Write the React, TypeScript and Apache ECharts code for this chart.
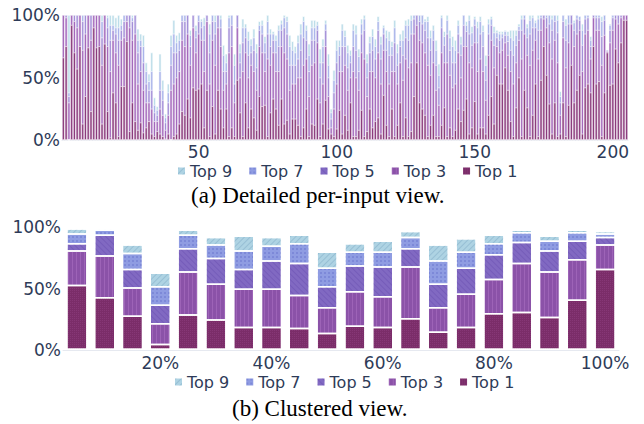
import React, { useEffect, useRef } from 'react';
import * as echarts from 'echarts';

const seriesNames = ['Top 9', 'Top 7', 'Top 5', 'Top 3', 'Top 1'];

// Detailed per-input view (205 inputs), values in percent
const detailTop9 = [
  100,100,100,100,100,100,100,100,100,100,
  100,100,100,100,100,100,100,100,100,98,
  100,97,100,100,100,100,100,89,85,84,
  62,53,70,34,27,69,48,21,45,84,
  96,84,86,100,100,100,88,100,92,100,
  97,98,100,93,100,100,100,100,76,69,
  100,100,69,100,77,97,93,87,81,89,
  77,95,96,83,100,89,87,84,92,96,
  100,99,84,79,75,84,93,99,92,77,
  96,96,95,73,81,96,69,25,56,80,
  80,93,88,76,72,93,92,73,97,100,
  69,83,89,81,99,83,92,88,87,79,
  96,77,85,88,96,97,100,100,100,100,
  100,97,99,88,92,80,61,100,87,100,
  88,83,80,96,83,100,95,100,91,99,
  95,99,92,68,97,99,91,88,87,87,
  88,87,88,88,88,93,100,100,93,100,
  100,96,100,100,100,100,100,100,100,100,
  39,100,97,100,100,96,100,99,93,100,
  100,83,100,100,100,99,100,72,93,100,
  100,100,100,100,100,
];
const detailTop7 = [
  100,100,38,100,100,100,100,100,100,100,
  100,100,100,100,95,100,98,92,92,90,
  90,92,100,100,100,98,100,80,80,75,
  55,47,55,28,24,55,40,18,38,75,
  85,78,80,100,100,100,84,100,88,100,
  95,92,100,85,100,95,100,97,68,62,
  98,100,60,100,70,90,90,80,76,82,
  70,92,92,78,95,85,85,80,88,93,
  98,95,75,72,70,78,85,95,88,68,
  90,90,92,62,75,93,60,22,48,72,
  75,88,83,70,68,88,85,67,93,97,
  62,78,83,75,95,77,90,82,80,75,
  90,70,80,80,92,92,96,100,100,100,
  100,95,95,82,88,72,52,98,83,96,
  82,75,72,92,77,100,92,96,86,97,
  90,95,87,60,93,97,86,86,85,85,
  87,84,82,80,84,91,97,100,90,96,
  98,94,97,100,100,100,100,97,100,96,
  35,100,92,100,100,94,100,99,88,100,
  100,80,100,100,100,95,100,72,92,100,
  100,100,100,100,100,
];
const detailTop5 = [
  100,100,35,100,100,100,100,95,100,100,
  100,100,100,100,82,100,90,80,88,85,
  80,88,95,100,100,95,100,70,75,62,
  45,40,40,22,20,40,32,14,30,60,
  70,70,72,95,95,100,75,100,82,95,
  90,80,100,70,95,85,100,90,55,55,
  90,92,45,100,62,78,82,68,70,72,
  58,88,85,70,85,75,80,70,75,88,
  90,85,60,60,60,65,72,82,80,55,
  80,80,88,50,62,88,50,17,38,62,
  68,75,75,58,62,75,72,55,85,88,
  50,70,72,65,88,65,85,72,68,68,
  78,60,75,68,82,80,85,97,100,95,
  93,88,82,72,80,60,42,90,76,85,
  72,62,62,85,68,92,87,85,76,92,
  78,85,75,48,85,92,76,82,80,82,
  84,79,72,68,76,88,88,97,82,85,
  90,90,88,98,100,98,93,88,95,86,
  30,95,80,93,100,88,97,96,76,97,
  98,75,100,98,98,83,96,72,88,98,
  100,100,100,100,100,
];
const detailTop3 = [
  100,98,30,100,95,90,100,72,85,100,
  80,100,100,100,60,100,75,55,80,70,
  60,80,82,95,90,80,85,45,55,40,
  30,30,25,15,15,25,20,8,20,40,
  45,50,55,80,75,85,60,90,70,85,
  80,55,95,45,80,60,90,75,40,45,
  70,75,30,90,50,55,70,50,60,55,
  40,75,70,55,65,60,70,55,55,75,
  70,65,40,45,45,50,50,60,65,35,
  60,62,78,30,45,75,35,10,25,45,
  55,55,60,40,50,55,50,40,70,65,
  35,55,55,50,70,45,72,55,45,55,
  55,45,62,48,65,58,62,85,92,80,
  78,70,60,52,62,40,28,70,62,62,
  52,42,45,70,50,75,75,62,58,78,
  55,65,55,32,68,80,58,75,70,72,
  78,68,55,45,62,80,65,85,68,60,
  72,80,65,88,97,90,78,65,80,62,
  20,82,58,78,93,75,85,88,55,85,
  88,65,98,88,88,60,84,71,78,88,
  97,93,98,100,100,
];
const detailTop1 = [
  66,75,0,92,70,57,75,13,35,74,
  23,90,74,75,13,77,23,2,38,30,
  3,43,43,79,7,30,15,8,14,6,
  10,15,5,3,7,5,3,1,5,0,
  3,5,13,23,20,33,18,42,40,41,
  45,10,40,3,27,5,40,25,10,25,
  3,10,3,48,22,3,30,10,25,18,
  8,35,27,28,3,22,33,25,12,33,
  13,16,5,17,17,12,3,10,25,3,
  13,12,33,3,13,32,9,5,3,9,
  24,5,20,8,30,3,3,8,24,3,
  7,25,10,15,18,5,36,12,3,25,
  3,12,30,3,18,3,7,35,62,30,
  25,20,3,12,20,3,3,12,26,3,
  10,3,8,25,15,24,33,5,10,31,
  5,10,10,5,20,35,13,52,45,45,
  58,40,15,3,26,50,3,40,26,3,
  20,45,3,48,75,52,29,5,30,3,
  5,30,3,28,60,30,40,52,5,42,
  45,38,75,45,47,3,38,70,44,45,
  73,62,78,96,96,
];
const detailInputs = detailTop9.map((_, i) => String(i + 1));

// Clustered view (20 clusters)
const clusterLabels = ['5%','10%','15%','20%','25%','30%','35%','40%','45%','50%','55%','60%','65%','70%','75%','80%','85%','90%','95%','100%'];
const clusterTop9 = [99,99,86,63,98,92,93,92,94,80,87,89,97,86,91,94,98,93,98,97];
const clusterTop7 = [95,98,79,52,94,86,81,85,87,67,80,80,92,73,80,87,96,89,96,95];
const clusterTop5 = [87,94,66,37,83,75,66,73,71,52,69,68,83,54,67,78,88,81,89,92];
const clusterTop3 = [81,77,51,22,64,54,50,50,45,35,48,44,68,35,46,58,71,64,74,86];
const clusterTop1 = [53,43,28,5,29,25,19,19,18,14,20,19,26,15,19,30,31,27,41,66];

const yTicks = [0, 50, 100];

const colors = ['#aed3e3', '#8f9ce2', '#8169c2', '#8b52a8', '#7b2d69'];
const thinColors = ['#bcdde9', '#aab4ea', '#a48fd8', '#a468bb', '#8b3b7c'];
const decals: any[] = [
  { symbol: 'rect', symbolSize: 1, dashArrayX: [1, 0], dashArrayY: [1, 2.5], rotation: -Math.PI / 4, color: 'rgba(70,120,160,0.22)' },
  { symbol: 'rect', symbolSize: 1, dashArrayX: [1.5, 1.5], dashArrayY: [1.5, 1.5], rotation: 0, color: 'rgba(60,70,180,0.22)' },
  { symbol: 'rect', symbolSize: 1, dashArrayX: [1, 0], dashArrayY: [1, 2.5], rotation: Math.PI / 4, color: 'rgba(70,40,150,0.2)' },
  { symbol: 'rect', symbolSize: 1, dashArrayX: [1, 2.5], dashArrayY: [1, 0], rotation: 0, color: 'rgba(200,140,220,0.3)' },
  { symbol: 'rect', symbolSize: 1, dashArrayX: [1, 1], dashArrayY: [1, 1], rotation: 0, color: 'rgba(160,80,150,0.3)' },
];

const textColor = '#2e3b58';
const font = 'DejaVu Sans';

export default function App() {
  const ref = useRef<HTMLDivElement>(null);
  useEffect(() => {
    if (!ref.current) return;
    const chart = echarts.init(ref.current, undefined, { renderer: 'svg' });
    const detail = [detailTop9, detailTop7, detailTop5, detailTop3, detailTop1];
    const cluster = [clusterTop9, clusterTop7, clusterTop5, clusterTop3, clusterTop1];
    const series: any[] = [];
    seriesNames.forEach((name, k) => {
      series.push({
        type: 'bar', name, xAxisIndex: 0, yAxisIndex: 0, data: detail[k],
        barWidth: '100%', barGap: '-100%',
        itemStyle: { color: thinColors[k], borderColor: '#ffffff', borderWidth: 0.6 },
        emphasis: { disabled: true },
      });
    });
    seriesNames.forEach((name, k) => {
      series.push({
        type: 'bar', name, xAxisIndex: 1, yAxisIndex: 1, data: cluster[k],
        barWidth: '78%', barGap: '-100%',
        itemStyle: { color: colors[k], borderColor: '#ffffff', borderWidth: 1.5, decal: decals[k] },
        emphasis: { disabled: true },
      });
    });
    const yAxisBase = {
      type: 'value', min: 0, max: 100, interval: 50,
      splitLine: { show: false }, axisLine: { show: false }, axisTick: { show: false },
      axisLabel: {
        formatter: (v: number) => (yTicks.includes(v) ? v + '%' : ''),
        color: textColor, fontFamily: font, fontSize: 17, margin: 2,
      },
    };
    const legendData = seriesNames.map((name, k) => ({
      name,
      itemStyle: { color: colors[k], decal: decals[k], borderWidth: 0 },
    }));
    const legendBase = {
      data: legendData, orient: 'horizontal', icon: 'rect', itemWidth: 7, itemHeight: 7,
      itemGap: 17, padding: 0, selectedMode: false,
      textStyle: { color: textColor, fontFamily: font, fontSize: 16 },
    };
    chart.setOption({
      animation: false,
      backgroundColor: '#ffffff',
      grid: [
        { left: 62, right: 16, top: 15, height: 125 },
        { left: 63, right: 25, top: 227, height: 123 },
      ],
      xAxis: [
        {
          type: 'category', gridIndex: 0, data: detailInputs,
          axisLine: { show: true, lineStyle: { color: '#e6e9f0', width: 1 } },
          axisTick: { show: false },
          axisLabel: {
            interval: (idx: number) => (idx + 1) % 50 === 0,
            color: textColor, fontFamily: font, fontSize: 17, margin: 3,
          },
        },
        {
          type: 'category', gridIndex: 1, data: clusterLabels,
          axisLine: { show: true, lineStyle: { color: '#e6e9f0', width: 1 } },
          axisTick: { show: false },
          axisLabel: {
            interval: (idx: number) => idx % 4 === 3,
            color: textColor, fontFamily: font, fontSize: 17, margin: 4,
          },
        },
      ],
      yAxis: [
        { ...yAxisBase, gridIndex: 0 },
        { ...yAxisBase, gridIndex: 1 },
      ],
      legend: [
        { ...legendBase, left: 178, top: 163 },
        { ...legendBase, left: 175, top: 374 },
      ],
      graphic: [
        { type: 'text', left: 191, top: 184, style: { text: '(a) Detailed per-input view.', fontFamily: 'Liberation Serif', fontSize: 23, fill: '#000000' } },
        { type: 'text', left: 232, top: 397, style: { text: '(b) Clustered view.', fontFamily: 'Liberation Serif', fontSize: 23, fill: '#000000' } },
      ],
      series,
    });
    return () => chart.dispose();
  }, []);
  return <div ref={ref} style={{ position: 'fixed', left: 0, top: 0, width: 644, height: 424 }} />;
}
